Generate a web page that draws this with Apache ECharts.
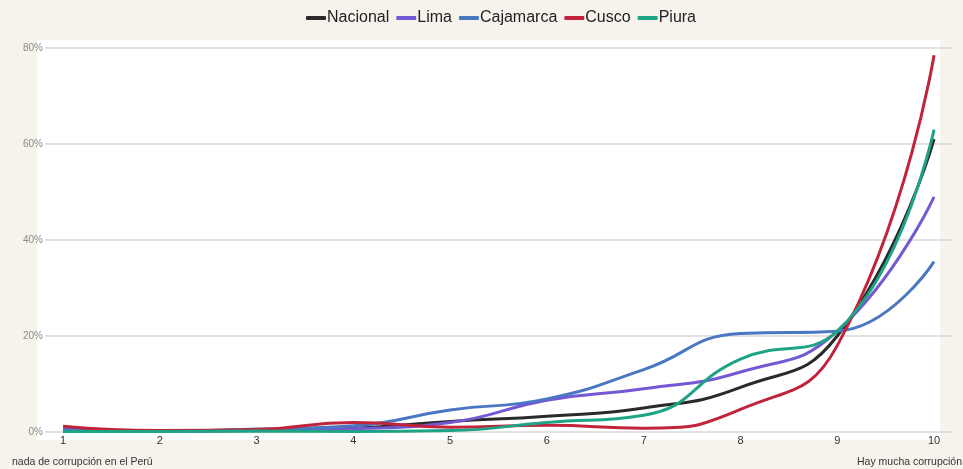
<!DOCTYPE html>
<html>
<head>
<meta charset="utf-8">
<script src="https://cdn.jsdelivr.net/npm/echarts@6/dist/echarts.min.js"></script>
<style>
  html, body { margin: 0; padding: 0; background: #f6f3ec; }
  #chart { width: 963px; height: 469px; }
</style>
</head>
<body>
<div id="chart"></div>
<script>
// escala 1..10
var escala = [1, 2, 3, 4, 5, 6, 7, 8, 9, 10];
var nacional  = [0.5, 0.2, 0.3, 0.8, 2.2, 3.3, 5.0, 9.3, 20.0, 61.0];
var lima      = [0.5, 0.2, 0.4, 0.7, 2.0, 6.6, 9.0, 12.5, 21.0, 49.0];
var cajamarca = [0.3, 0.2, 0.6, 1.3, 4.6, 6.9, 13.0, 20.5, 21.0, 35.5];
var cusco     = [1.2, 0.3, 0.5, 2.0, 1.0, 1.4, 0.8, 4.7, 18.0, 78.5];
var piura     = [0.1, 0.1, 0.2, 0.1, 0.3, 2.0, 3.5, 15.2, 21.0, 63.0];
var yTicks = [0, 20, 40, 60, 80];

var nombres = ['Nacional', 'Lima', 'Cajamarca', 'Cusco', 'Piura'];
var colores = ['#2a2a2a', '#7558d3', '#4a77c2', '#c1233b', '#1fa386'];
var valores = [nacional, lima, cajamarca, cusco, piura];

function pares(arr) {
  return arr.map(function (v, i) { return [escala[i], v]; });
}

var fuente = 'Liberation Sans, Arial, sans-serif';
var myChart = echarts.init(document.getElementById('chart'));
var option = {
  backgroundColor: '#f6f3ec',
  textStyle: { fontFamily: fuente },
  legend: {
    top: 5,
    left: 301,
    icon: 'roundRect',
    itemWidth: 20,
    itemHeight: 4,
    itemGap: 7,
    textStyle: { fontSize: 16, color: '#222', padding: [0, 0, 0, -4] },
    data: nombres
  },
  grid: { left: 45, right: 10, top: 48, bottom: 37 },
  graphic: [
    {
      type: 'rect', z: -100, silent: true,
      shape: { x: 37, y: 40, width: 903, height: 400 },
      style: { fill: '#ffffff' }
    },
    {
      type: 'text', left: 12, top: 457,
      style: { text: 'nada de corrupción en el Perú', fontSize: 10.5, fill: '#333', fontFamily: fuente }
    },
    {
      type: 'text', right: 1, top: 457,
      style: { text: 'Hay mucha corrupción', fontSize: 10.5, fill: '#333', fontFamily: fuente }
    }
  ],
  xAxis: {
    type: 'value',
    min: 0.814,
    max: 10.196,
    axisLine: { show: false },
    axisTick: { show: false },
    splitLine: { show: false },
    axisLabel: {
      customValues: escala,
      color: '#333',
      fontSize: 11,
      margin: 3
    }
  },
  yAxis: {
    type: 'value',
    min: 0,
    max: 80,
    interval: 20,
    axisLine: { show: false },
    axisTick: { show: false },
    splitLine: { lineStyle: { color: '#d8d8d8', width: 1.5 } },
    axisLabel: {
      customValues: yTicks,
      formatter: '{value}%',
      color: '#8a8a8a',
      fontSize: 10,
      margin: 2
    }
  },
  series: nombres.map(function (n, i) {
    return {
      name: n,
      type: 'line',
      smooth: 0.5,
      showSymbol: false,
      symbol: 'none',
      color: colores[i],
      lineStyle: { width: 3, color: colores[i] },
      data: pares(valores[i])
    };
  })
};
myChart.setOption(option);
</script>
</body>
</html>
